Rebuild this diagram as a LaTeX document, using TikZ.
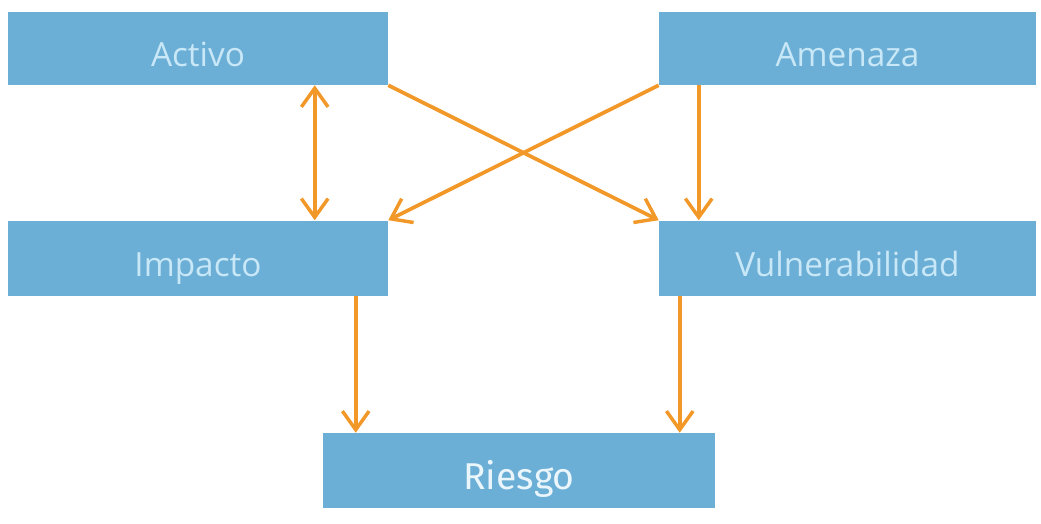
\documentclass[tikz,border=0pt]{standalone}
\usepackage{fontspec}
\setmainfont{Open Sans}
\newfontfamily\riesgofont{Fira Sans}
\usetikzlibrary{arrows.meta}
\definecolor{boxblue}{RGB}{108,175,214}
\definecolor{boxtext}{RGB}{200,231,247}
\definecolor{riesgotext}{RGB}{235,246,252}
\definecolor{arrorange}{RGB}{242,152,40}
\tikzset{
  blockbox/.style={rectangle, fill=boxblue, draw=none, inner sep=0pt, text=boxtext,
    text height=27pt, text depth=0pt, font=\fontsize{25}{30}\selectfont},
  conn/.style={draw=arrorange, line width=2.8pt, -{Straight Barb[length=14pt,width=20pt,line width=2.6pt]}},
  connboth/.style={draw=arrorange, line width=2.8pt, {Straight Barb[length=14pt,width=20pt,line width=2.6pt]}-{Straight Barb[length=14pt,width=20pt,line width=2.6pt]}}
}
\begin{document}
\begin{tikzpicture}[x=0.75pt,y=-0.75pt]
\useasboundingbox (0,0) rectangle (1041,524);
\node[blockbox, minimum width=285pt, minimum height=54.75pt] (activo) at (198,48.5) {Activo};
\node[blockbox, minimum width=282.75pt, minimum height=54.75pt] (amenaza) at (847.5,48.5) {Amenaza};
\node[blockbox, minimum width=285pt, minimum height=56.25pt] (impacto) at (198,258) {Impacto};
\node[blockbox, minimum width=282.75pt, minimum height=56.25pt] (vuln) at (847.5,258) {Vulnerabilidad};
\node[blockbox, minimum width=294pt, minimum height=56.25pt, text=riesgotext, text height=28.4pt, font=\riesgofont\fontsize{28}{32}\selectfont] (riesgo) at (519,470.5) {Riesgo};
\draw[connboth] ([xshift=230.25pt]activo.south west) -- ([xshift=230.25pt]impacto.north west);
\draw[conn] (activo.south east) -- (vuln.north west);
\draw[conn] (amenaza.south west) -- (impacto.north east);
\draw[conn] ([xshift=30pt]amenaza.south west) -- ([xshift=30pt]vuln.north west);
\draw[conn] ([xshift=261pt]impacto.south west) -- ([xshift=24.75pt]riesgo.north west);
\draw[conn] ([xshift=15.75pt]vuln.south west) -- ([xshift=267.75pt]riesgo.north west);
\end{tikzpicture}
\end{document}
